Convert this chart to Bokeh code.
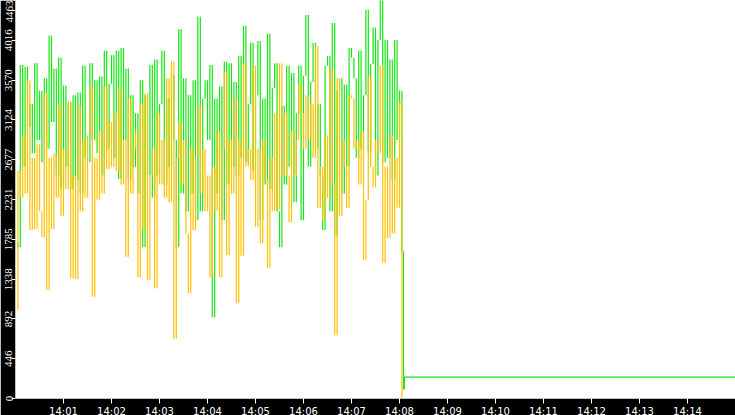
import datetime as dt

from bokeh.plotting import figure
from bokeh.models import Range1d, FixedTicker, DatetimeTickFormatter
from bokeh.embed import file_html
from bokeh.resources import INLINE

# ---------------- data ----------------
START = dt.datetime(2024, 1, 1, 14, 0, 0)
END = dt.datetime(2024, 1, 1, 14, 15, 0)
SAMPLE_SECONDS = 3

green_values = [
    1750, 1700, 3740, 2600, 3720, 3050, 3300, 2750, 3760, 2900,
    3450, 2650, 3590, 2800, 4070, 3100, 3700, 2500, 3820, 2350,
    3510, 2600, 3320, 2350, 3400, 2450, 3430, 2300, 3730, 2700,
    2650, 3760, 2900, 3570, 2750, 3610, 2500, 3900, 2800, 3530,
    3850, 2700, 3900, 2460, 3930, 2900, 3700, 2450, 3400, 2600,
    3200, 2300, 3570, 1700, 3400, 2500, 3740, 2250, 3800, 2500,
    3300, 3900, 2400, 3365, 2600, 3630, 2900, 1700, 4140, 2300,
    3590, 2100, 3400, 2300, 3570, 2000, 4280, 2100, 3360, 3570,
    2900, 3740, 910, 3365, 2300, 3500, 2000, 3780, 2400, 3760,
    2600, 3550, 2500, 3840, 2700, 4180, 2650, 3300, 3990, 2550,
    3400, 4010, 2000, 3365, 2400, 4090, 2350, 3480, 3760, 2100,
    1700, 3280, 2400, 3730, 2600, 3650, 2200, 3200, 3730, 2000,
    3620, 4300, 2600, 3550, 3990, 2800, 3300, 2500, 1890, 3730,
    3840, 2100, 4210, 1830, 3450, 3590, 2300, 3520, 2600, 3930,
    3820, 3590, 2700, 3900, 2800, 3400, 4360, 2750, 3750, 4160,
    2500, 4020, 4500, 2650, 4020, 2700, 3800, 2450, 4020, 2900, 3450,
]
green_tail_seconds = [482, 483, 485, 486, 900]
green_tail_values = [3450, 1650, 100, 240, 240]

orange_values = [
    990, 2550, 2250, 2950, 2300, 3560, 1890, 2700, 1900, 2850,
    2100, 1810, 3420, 1220, 2700, 1900, 2750, 2250, 3300, 2050,
    2800, 2350, 3330, 1350, 2500, 1340, 3285, 2100, 2900, 2250,
    2950, 3490, 1140, 2700, 2230, 3000, 2300, 3500, 2570, 3100,
    2600, 3200, 2550, 3480, 2400, 2900, 1590, 3365, 2300, 2800,
    3000, 1360, 3300, 1900, 3420, 1325, 2500, 2800, 1235, 3200,
    2400, 2900, 2250, 3590, 2200, 3780, 670, 2700, 3100, 2400,
    2900, 1850, 1180, 2800, 1890, 2700, 3285, 2300, 2800, 2100,
    2500, 1360, 2600, 2100, 3000, 1360, 2800, 3670, 1610, 2900,
    2300, 3365, 1075, 2900, 1600, 3760, 2600, 2800, 2450, 3730,
    1925, 2800, 1745, 2900, 2450, 1460, 2700, 2100, 3200, 2120,
    3760, 2500, 3200, 2500, 1980, 3000, 2500, 2900, 3530, 3200,
    2800, 3400, 2900, 3300, 2700, 3950, 2140, 2600, 2000, 2950,
    2250, 3700, 2400, 710, 3590, 2050, 2900, 2600, 2140, 3400,
    3365, 2800, 2900, 2400, 2990, 1550, 2230, 3610, 2600, 2370,
    2900, 2750, 3730, 1520, 2600, 1800, 2950, 1850, 2700, 2140, 3330,
]
orange_tail_seconds = [482, 483]
orange_tail_values = [3300, 0]

y_tick_labels = ["0", "446", "892", "1338", "1785", "2231", "2677",
                 "3124", "3570", "4016", "4463"]
x_tick_labels = ["14:01", "14:02", "14:03", "14:04", "14:05", "14:06", "14:07",
                 "14:08", "14:09", "14:10", "14:11", "14:12", "14:13", "14:14"]

GREEN = "#14e614"
ORANGE = "#ffc000"

# ---------------- build ----------------
EPOCH = dt.datetime(1970, 1, 1)


def ms(d):
    return (d - EPOCH).total_seconds() * 1000.0


def series(values, tail_s, tail_v):
    t = [ms(START + dt.timedelta(seconds=SAMPLE_SECONDS * i)) for i in range(len(values))]
    t += [ms(START + dt.timedelta(seconds=s)) for s in tail_s]
    return t, list(values) + list(tail_v)


green_t, green_y = series(green_values, green_tail_seconds, green_tail_values)
orange_t, orange_y = series(orange_values, orange_tail_seconds, orange_tail_values)

y_top = float(y_tick_labels[-1])

p = figure(frame_width=720, frame_height=398, x_axis_type="datetime",
           output_backend="svg", toolbar_location=None,
           x_range=Range1d(ms(START), ms(END)),
           y_range=Range1d(0, y_top),
           min_border_left=15, min_border_bottom=17,
           min_border_top=0, min_border_right=0,
           background_fill_color="white", border_fill_color="black",
           outline_line_color=None)

p.grid.visible = False


def draw(t, y, color):
    # dense sampled trace: each change drawn as a vertical stroke at its sample time
    p.segment(x0=t[1:], y0=y[:-1], x1=t[1:], y1=y[1:],
              line_color=color, line_width=1.2)


draw(green_t[:-1], green_y[:-1], GREEN)
# final flat part of the green trace
p.line(green_t[-2:], green_y[-2:], line_color=GREEN, line_width=1.2)
draw(orange_t, orange_y, ORANGE)

# x axis
x_ticks = []
for lab in x_tick_labels:
    h, m = lab.split(":")
    x_ticks.append(ms(START.replace(hour=int(h), minute=int(m))))
p.xaxis.ticker = FixedTicker(ticks=x_ticks)
fmt = "%H:%M"
p.xaxis.formatter = DatetimeTickFormatter(seconds=fmt, minsec=fmt, minutes=fmt,
                                          hourmin=fmt, hours=fmt)
p.xaxis.axis_line_color = None
p.xaxis.major_tick_line_color = "white"
p.xaxis.major_tick_in = 0
p.xaxis.major_tick_out = 5
p.xaxis.minor_tick_line_color = None
p.xaxis.major_label_standoff = 2
p.xaxis.major_label_text_color = "white"
p.xaxis.major_label_text_font = "DejaVu Sans"
p.xaxis.major_label_text_font_size = "10px"

# y axis: top tick label is placed just inside the frame so it is not cut off
y_ticks = [float(v) for v in y_tick_labels[:-1]]
top_pos = y_top - 115.0
y_ticks.append(top_pos)
p.yaxis.ticker = FixedTicker(ticks=y_ticks)
p.yaxis.major_label_overrides = {top_pos: y_tick_labels[-1]}
p.yaxis.axis_line_color = None
p.yaxis.major_tick_line_color = "white"
p.yaxis.major_tick_in = 0
p.yaxis.major_tick_out = 4
p.yaxis.minor_tick_line_color = None
p.yaxis.major_label_standoff = -1
p.yaxis.major_label_orientation = "vertical"
p.yaxis.major_label_text_color = "white"
p.yaxis.major_label_text_font = "Liberation Sans Narrow"
p.yaxis.major_label_text_font_size = "11px"

html = file_html(p, INLINE, title="chart")
html = html.replace("<head>", "<head>\n<style>html, body {margin:0; padding:0; overflow:hidden;}</style>", 1)
open("out.html", "w").write(html)
